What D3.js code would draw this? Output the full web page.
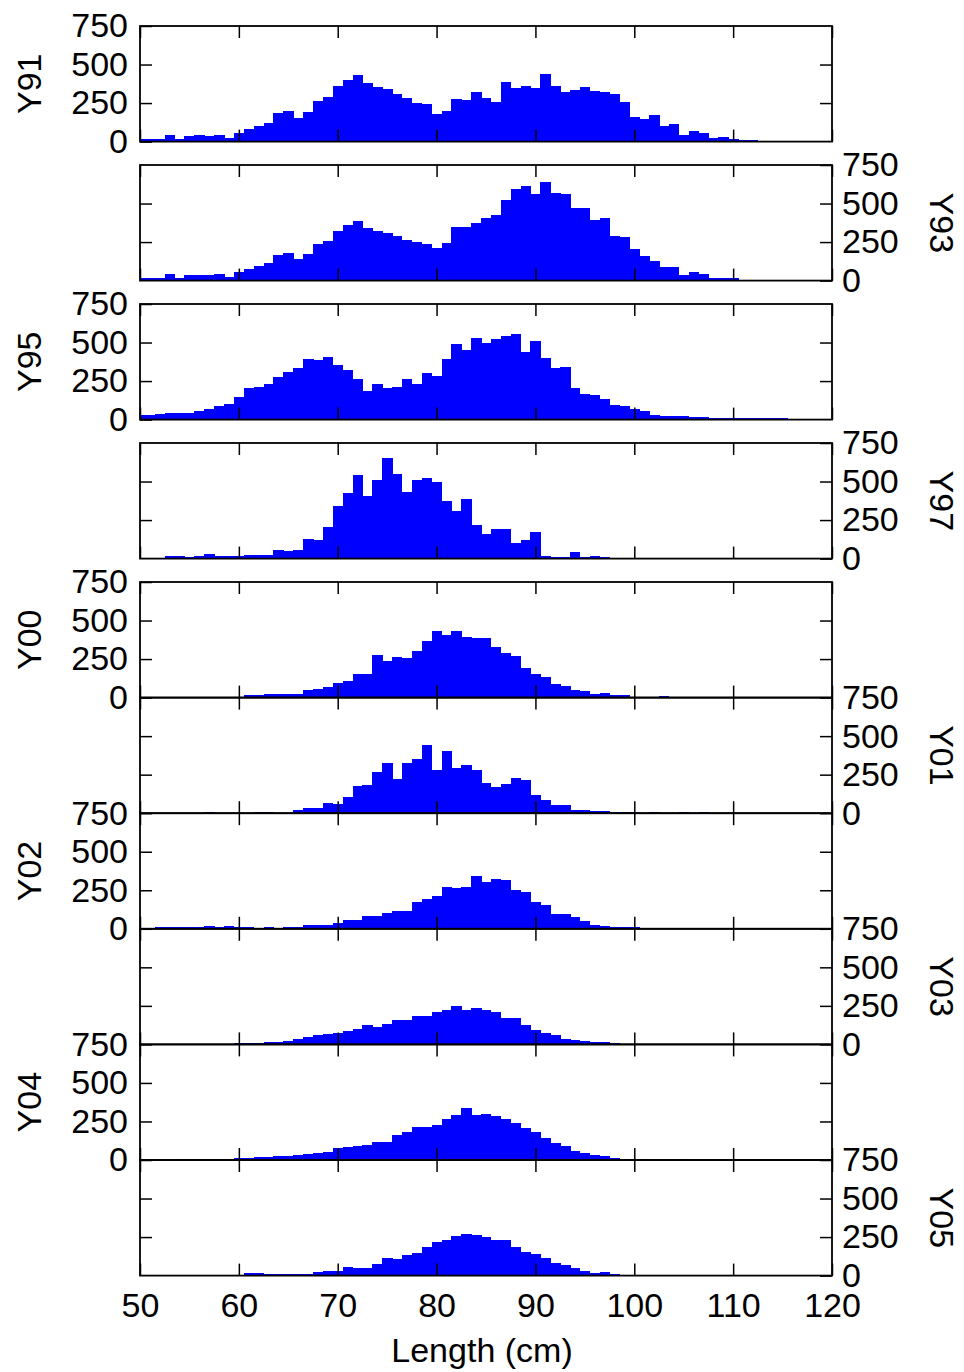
<!DOCTYPE html>
<html lang="en">
<head>
<meta charset="UTF-8">
<title>Length distributions by year</title>
<script src="https://d3js.org/d3.v7.min.js"></script>
<style>
    body {
        margin: 0;
        background: #fff;
    }

    svg {
        display: block;
        font-family: "Liberation Sans", Arial, sans-serif;
    }

    .axis text {
        font-size: 34px;
        fill: #000;
    }

    .axis line {
        stroke: #000;
        stroke-width: 1.5;
    }

    .bar {
        shape-rendering: crispEdges;
    }
</style>
</head>
<body>
<div id="chart"></div>
<script>
    // centre of each 1 cm length bin (first and last are cut in half by the axis)
    const lengthBins = [50, 51, 52, 53, 54, 55, 56, 57, 58, 59,
        60, 61, 62, 63, 64, 65, 66, 67, 68, 69,
        70, 71, 72, 73, 74, 75, 76, 77, 78, 79,
        80, 81, 82, 83, 84, 85, 86, 87, 88, 89,
        90, 91, 92, 93, 94, 95, 96, 97, 98, 99,
        100, 101, 102, 103, 104, 105, 106, 107, 108, 109,
        110, 111, 112, 113, 114, 115, 116, 117, 118, 119, 120];

    // counts per bin
    const y91 = [19, 19, 19, 45, 17, 39, 43, 39, 43, 26, 56,
        84, 103, 123, 185, 200, 155, 194, 263, 289, 360,
        399, 431, 381, 353, 340, 308, 282, 250, 246, 179,
        200, 276, 269, 321, 282, 254, 386, 349, 360, 349,
        440, 360, 323, 338, 353, 330, 323, 306, 259, 159,
        147, 172, 101, 116, 45, 69, 56, 24, 28, 17,
        13, 9, 0, 0, 0, 0, 0, 0, 0, 0];
    const y93 = [19, 19, 19, 45, 17, 37, 39, 37, 45, 26, 56,
        78, 95, 114, 166, 179, 142, 175, 237, 259, 325,
        362, 388, 340, 323, 312, 289, 261, 248, 239, 213,
        244, 347, 345, 375, 407, 427, 524, 593, 612, 562,
        638, 567, 560, 472, 474, 392, 403, 289, 282, 205,
        159, 129, 91, 91, 39, 56, 43, 19, 15, 19,
        0, 0, 0, 0, 0, 0, 0, 0, 0, 0];
    const y95 = [28, 28, 37, 43, 41, 45, 54, 69, 91, 103, 147,
        205, 213, 233, 278, 312, 336, 392, 386, 405, 353,
        321, 265, 183, 231, 207, 213, 265, 233, 300, 285,
        390, 491, 453, 528, 498, 522, 541, 556, 440, 509,
        399, 338, 340, 207, 168, 162, 136, 95, 86, 69,
        56, 32, 22, 26, 22, 19, 17, 13, 13, 11,
        11, 9, 9, 9, 9, 0, 0, 0, 0, 0];
    const y97 = [4, 4, 4, 17, 17, 9, 17, 32, 17, 19, 17,
        22, 24, 26, 56, 50, 54, 129, 121, 207, 340,
        427, 541, 405, 509, 651, 550, 433, 513, 526, 500,
        375, 310, 386, 218, 159, 194, 192, 103, 121, 170,
        19, 11, 11, 43, 11, 17, 11, 5, 5, 5,
        5, 5, 5, 5, 5, 5, 5, 5, 5, 5,
        5, 5, 5, 5, 5, 0, 0, 0, 0, 0];
    const y00 = [2, 2, 2, 2, 2, 2, 2, 2, 2, 2, 2,
        15, 15, 22, 22, 22, 22, 52, 54, 71, 97,
        110, 155, 155, 274, 235, 265, 254, 304, 364, 433,
        403, 433, 394, 388, 388, 328, 287, 267, 190, 151,
        131, 86, 73, 52, 41, 26, 28, 15, 15, 6,
        6, 4, 13, 4, 2, 2, 2, 2, 2, 2,
        2, 2, 2, 2, 2, 2, 2, 2, 2, 2];
    const y01 = [0, 0, 0, 0, 0, 0, 0, 6, 0, 0, 0,
        2, 9, 9, 4, 4, 22, 35, 35, 67, 60,
        103, 175, 183, 267, 323, 220, 323, 349, 440, 282,
        405, 293, 315, 280, 198, 172, 190, 228, 216, 116,
        84, 52, 56, 22, 22, 15, 13, 11, 9, 6,
        4, 6, 2, 2, 6, 2, 6, 2, 2, 2,
        2, 2, 2, 2, 2, 0, 0, 0, 0, 0];
    const y02 = [4, 4, 9, 13, 13, 13, 13, 19, 11, 15, 11,
        11, 4, 11, 6, 11, 11, 22, 22, 22, 37,
        54, 54, 80, 80, 102, 115, 115, 172, 194, 214,
        268, 263, 268, 340, 305, 325, 318, 249, 236, 172,
        153, 96, 96, 78, 50, 22, 15, 9, 9, 11,
        4, 4, 2, 2, 4, 2, 4, 2, 2, 2,
        2, 2, 2, 2, 2, 0, 0, 0, 0, 0];
    const y03 = [0, 0, 0, 0, 0, 0, 0, 0, 0, 0, 9,
        9, 11, 15, 17, 22, 35, 48, 61, 67, 76,
        87, 102, 126, 115, 135, 157, 157, 187, 187, 211,
        220, 251, 225, 235, 225, 209, 174, 172, 129, 94,
        76, 63, 35, 31, 22, 17, 15, 6, 2, 2,
        2, 2, 2, 2, 2, 2, 2, 2, 2, 2,
        2, 2, 2, 2, 2, 0, 0, 0, 0, 0];
    const y04 = [2, 2, 2, 2, 6, 6, 9, 9, 9, 9, 11,
        13, 19, 22, 24, 24, 35, 39, 43, 50, 80,
        87, 91, 95, 119, 115, 160, 181, 211, 216, 226,
        267, 295, 340, 293, 300, 287, 269, 237, 209, 179,
        144, 108, 88, 56, 45, 32, 28, 15, 9, 9,
        9, 2, 2, 2, 6, 2, 2, 2, 2, 2,
        2, 2, 2, 2, 2, 0, 0, 0, 0, 0];
    const y05 = [2, 2, 2, 2, 6, 6, 6, 6, 6, 6, 6,
        15, 15, 9, 9, 13, 13, 13, 26, 30, 30,
        56, 52, 52, 73, 114, 106, 134, 149, 188, 216,
        229, 259, 267, 261, 252, 233, 233, 188, 155, 142,
        112, 82, 67, 47, 32, 17, 22, 13, 6, 4,
        4, 4, 4, 4, 4, 2, 2, 2, 2, 2,
        2, 2, 2, 2, 0, 0, 0, 0, 0, 0];

    const panelNames = ["Y91", "Y93", "Y95", "Y97", "Y00", "Y01", "Y02", "Y03", "Y04", "Y05"];
    const countTicks = [0, 250, 500, 750];
    const lengthTicks = [50, 60, 70, 80, 90, 100, 110, 120];
    const xLabel = "Length (cm)";

    const series = [y91, y93, y95, y97, y00, y01, y02, y03, y04, y05];

    const width = 964;
    const height = 1372;
    const left = 140;
    const right = 832;
    const panelH = 115.6;
    const tickLen = 12;

    // first five panels have a gap between them, the last ones touch
    function panelTop(i) {
        return i < 5 ? 26 + 139 * i : 582 + panelH * (i - 4);
    }

    const svg = d3.select('#chart')
        .append('svg')
        .attr('width', width)
        .attr('height', height);

    const x = d3.scaleLinear().domain([50, 120]).range([left, right]);
    const y = d3.scaleLinear().domain([0, 750]).range([panelH, 0]);
    const binLo = c => x(Math.max(50, c - 0.5));
    const binHi = c => x(Math.min(120, c + 0.5));

    panelNames.forEach((name, i) => {
        const g = svg.append('g').attr('transform', `translate(0,${panelTop(i)})`);
        const labelsLeft = i % 2 === 0;
        const isLast = i === panelNames.length - 1;

        // bars
        g.selectAll('rect.bar')
            .data(series[i])
            .join('rect')
            .attr('class', 'bar')
            .attr('x', (d, j) => binLo(lengthBins[j]))
            .attr('width', (d, j) => binHi(lengthBins[j]) - binLo(lengthBins[j]) + 0.5)
            .attr('y', d => y(d))
            .attr('height', d => panelH - y(d))
            .attr('fill', '#0000ff');

        // labelled count axis on one side, plain ticks on the other
        const labelled = (labelsLeft ? d3.axisLeft(y) : d3.axisRight(y))
            .tickValues(countTicks)
            .tickSizeInner(-tickLen)
            .tickSizeOuter(0)
            .tickPadding(labelsLeft ? 12 : 10);
        const plain = (labelsLeft ? d3.axisRight(y) : d3.axisLeft(y))
            .tickValues([250, 500])
            .tickSizeInner(-tickLen)
            .tickSizeOuter(0)
            .tickFormat('');

        g.append('g')
            .attr('class', 'axis')
            .attr('transform', `translate(${labelsLeft ? left : right},0)`)
            .call(labelled)
            .call(a => a.select('.domain').remove());
        g.append('g')
            .attr('class', 'axis')
            .attr('transform', `translate(${labelsLeft ? right : left},0)`)
            .call(plain)
            .call(a => a.select('.domain').remove());

        // length ticks top and bottom, numbers only under the last panel
        g.append('g')
            .attr('class', 'axis')
            .call(d3.axisTop(x).tickValues(lengthTicks).tickSizeInner(-tickLen).tickSizeOuter(0).tickFormat(''))
            .call(a => a.select('.domain').remove());
        const bottom = d3.axisBottom(x)
            .tickValues(lengthTicks)
            .tickSizeInner(-tickLen)
            .tickSizeOuter(0)
            .tickPadding(17);
        if (!isLast) bottom.tickFormat('');
        g.append('g')
            .attr('class', 'axis')
            .attr('transform', `translate(0,${panelH})`)
            .call(bottom)
            .call(a => a.select('.domain').remove());

        // frame
        g.append('rect')
            .attr('x', left)
            .attr('y', 0)
            .attr('width', right - left)
            .attr('height', panelH)
            .attr('fill', 'none')
            .attr('stroke', '#000')
            .attr('stroke-width', 1.8);

        // year label
        const lx = labelsLeft ? 29 : 942;
        g.append('text')
            .attr('transform', `translate(${lx},${panelH / 2}) rotate(${labelsLeft ? -90 : 90})`)
            .attr('text-anchor', 'middle')
            .attr('dy', '0.36em')
            .style('font-size', '34px')
            .text(name);
    });

    svg.append('text')
        .attr('x', 482)
        .attr('y', 1362)
        .attr('text-anchor', 'middle')
        .style('font-size', '34px')
        .text(xLabel);
</script>
</body>
</html>
